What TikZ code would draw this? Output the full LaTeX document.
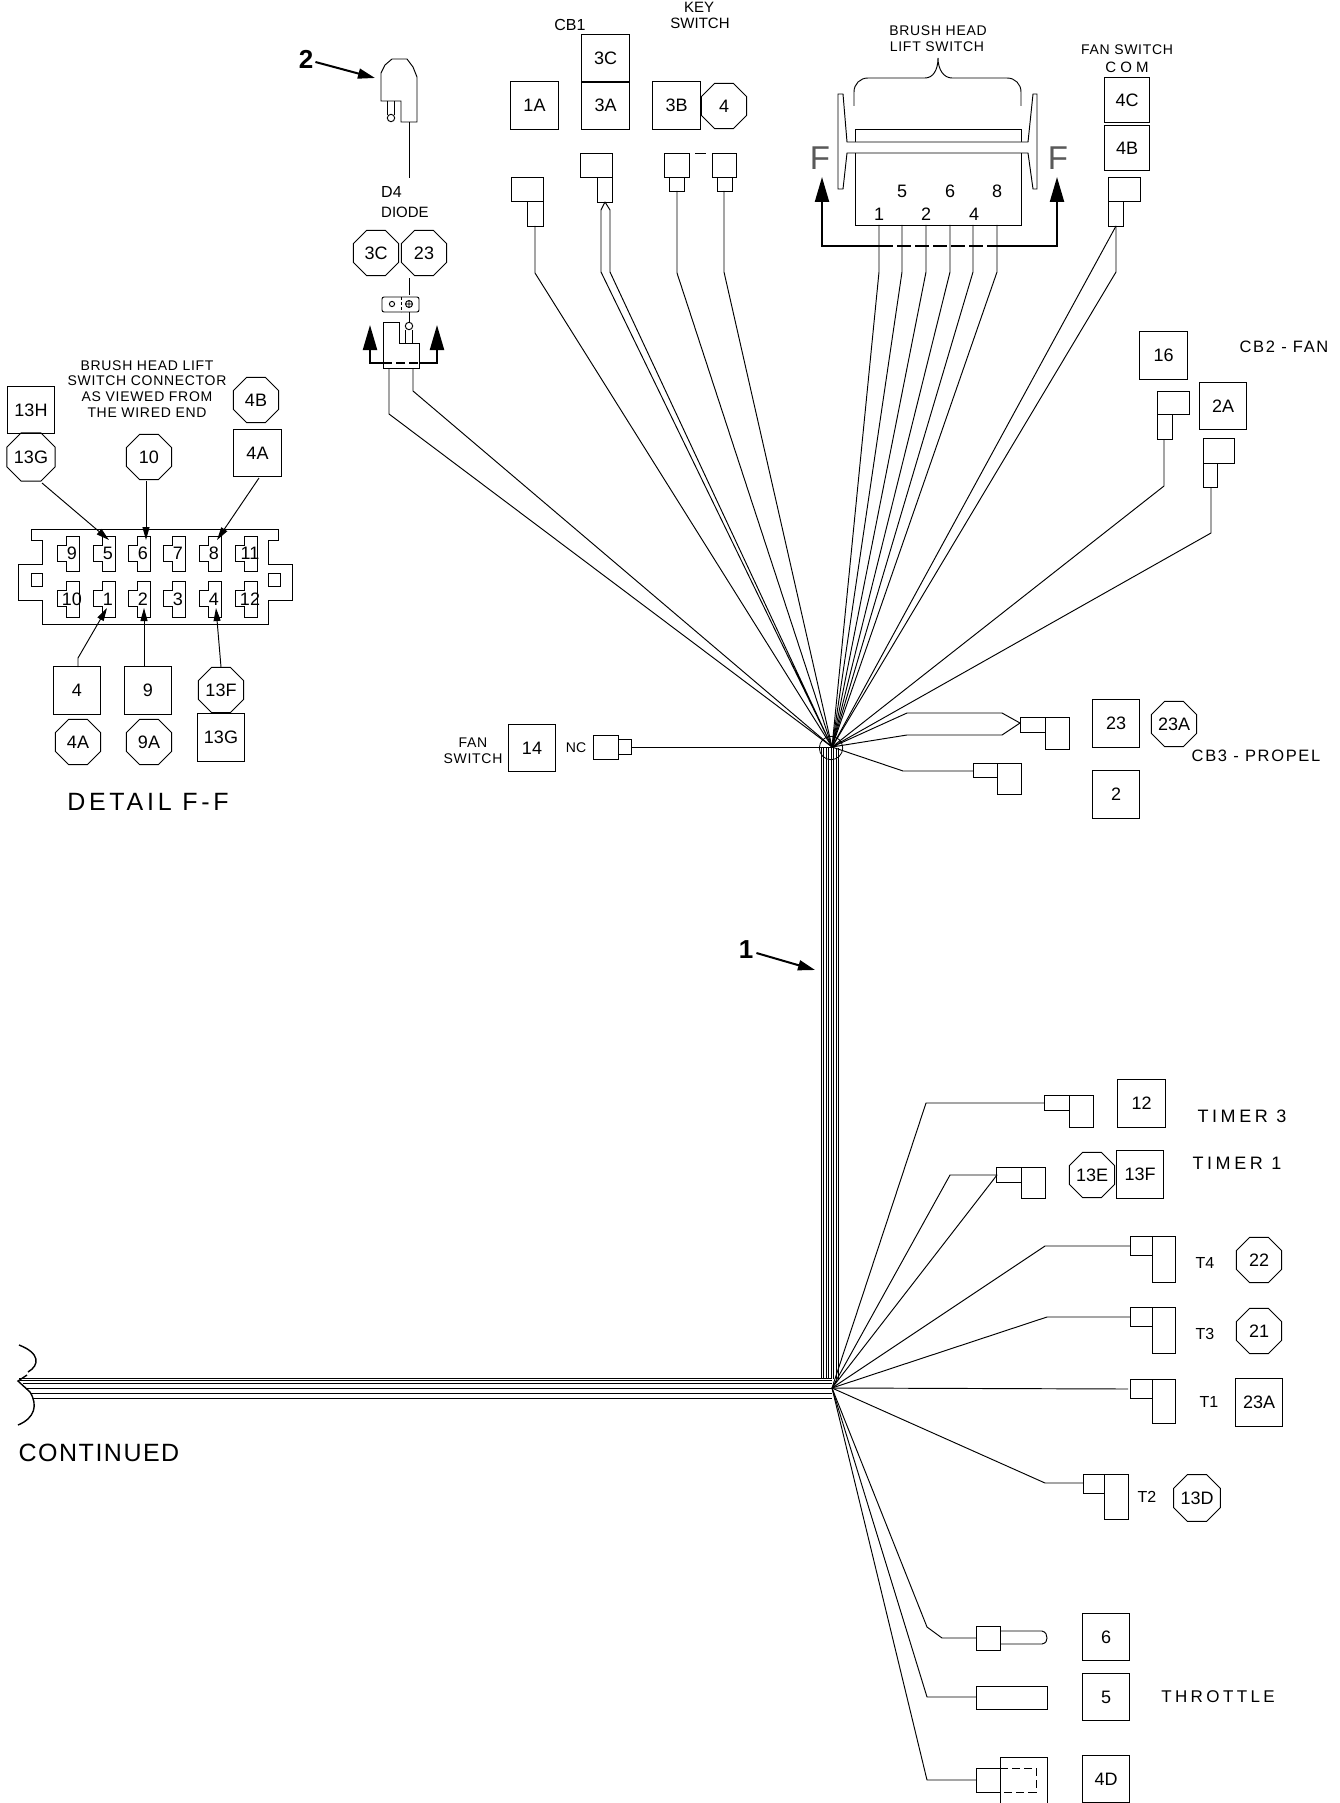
\documentclass[tikz,border=0pt]{standalone}
\usepackage{fontspec}
\usetikzlibrary{shapes.geometric,arrows.meta}
\setmainfont{Liberation Sans}
\newfontfamily\cadA{Liberation Sans}
\newfontfamily\cadE[LetterSpace=5]{Liberation Sans}
\newfontfamily\cadF[LetterSpace=6]{Liberation Sans}
\newfontfamily\cadB[LetterSpace=10]{Liberation Sans}
\newfontfamily\cadG[LetterSpace=15]{Liberation Sans}
\newfontfamily\cadC[LetterSpace=20]{Liberation Sans}
\newfontfamily\cadD{Liberation Sans Bold}
\tikzset{
  x=1pt,y=-1pt,
  wire/.style={line width=0.95pt,line join=round},
  part/.style={line width=0.95pt,draw=black},
  sq/.style={draw,line width=0.95pt,minimum size=47.5pt,inner sep=0pt,outer sep=0pt,font=\cadA\fontsize{18}{18}\selectfont},
  oct/.style={draw,line width=0.95pt,regular polygon,regular polygon sides=8,minimum size=49pt,inner sep=0pt,outer sep=0pt,font=\cadA\fontsize{18}{18}\selectfont},
  lab/.style={inner sep=0pt,font=\cadE\fontsize{14}{14}\selectfont},
  labm/.style={inner sep=0pt,font=\cadA\fontsize{15}{15}\selectfont},
  labt/.style={inner sep=0pt,font=\cadA\fontsize{16}{16}\selectfont},
  labc/.style={inner sep=0pt,font=\cadB\fontsize{16.5}{16.5}\selectfont},
  labw/.style={inner sep=0pt,font=\cadC\fontsize{18}{18}\selectfont},
  pinlab/.style={inner sep=0pt,font=\cadA\fontsize{18}{18}\selectfont},
  callout/.style={line width=2pt,-{Triangle[length=17pt,width=10pt]}},
  calltext/.style={inner sep=0pt,font=\cadD\fontsize{26}{26}\selectfont},
  sect/.style={line width=2.2pt,line join=miter},
  secttip/.style={sect,-{Triangle[length=25pt,width=14pt]}},
  leader/.style={line width=0.95pt,-{Triangle[length=13pt,width=7pt]}},
}
\begin{document}
\begin{tikzpicture}
\useasboundingbox (0,0) rectangle (1339,1803);
\coordinate (hubA) at (832,747);
\coordinate (hubB) at (832,1388);

% ---------- DETAIL F-F
\node[lab] (d1) at (147,366) {BRUSH HEAD LIFT};
\node[lab] (d2) at (147,381) {SWITCH CONNECTOR};
\node[lab] (d3) at (147,397) {AS VIEWED FROM};
\node[lab] (d4) at (147,413) {THE WIRED END};
\node[sq] (s13H) at (31,410) {13H};
\node[oct] (o13Ga) at (31,457) {13G};
\node[oct] (o10) at (149,457) {10};
\node[oct] (o4B) at (256,400) {4B};
\node[sq] (s4A) at (257.5,453) {4A};
\node[sq] (s4) at (77,690.5) {4};
\node[sq] (s9) at (148,690.5) {9};
\node[oct] (o13Fa) at (221,690) {13F};
\node[sq] (s13Gb) at (221,737.5) {13G};
\node[oct] (o4A) at (78,742) {4A};
\node[oct] (o9A) at (149,742) {9A};
\node[inner sep=0pt,font=\cadG\fontsize{25}{25}\selectfont] (detail) at (148,802) {DETAIL F-F};
\draw[part] (31,529) -- (278,529) -- (278,540) -- (268,540) -- (268,564) -- (292,564) -- (292,600) -- (268,600) -- (268,624) -- (42,624) -- (42,600) -- (18,600) -- (18,564) -- (42,564) -- (42,540) -- (31,540) -- cycle;
\draw[part] (31,573) rectangle (42,586);
\draw[part] (268,573) rectangle (280,586);
\foreach \x/\t/\b in {79/9/10,115/5/1,150/6/2,185/7/3,221/8/4,257/11/12}{
  \draw[part] (\x,536) -- (\x,571) -- ({\x-13},571) -- ({\x-13},561) -- ({\x-22},561) -- ({\x-22},545) -- ({\x-13},545) -- ({\x-13},536) -- cycle;
  \draw[part] (\x,581) -- (\x,617) -- ({\x-13},617) -- ({\x-13},606) -- ({\x-22},606) -- ({\x-22},590) -- ({\x-13},590) -- ({\x-13},581) -- cycle;
  \node[pinlab] (pinT\t) at ({\x-7},553) {\t};
  \node[pinlab] (pinB\b) at ({\x-7},599) {\b};
}
\draw[leader] (42,483) -- (109,540);
\draw[leader] (146,481) -- (146,540);
\draw[leader] (259,478) -- (217,540);
\draw[leader] (78,667) -- (78,658) -- (107,608);
\draw[leader] (144,667) -- (144,608);
\draw[leader] (221,667) -- (216,608);

% ---------- Diode
\node[calltext] (n2) at (306,59) {2};
\coordinate (c2) at (375,78);
\draw[callout] (n2.east) ++(2,3) -- (c2);
\draw[part] (381,101) -- (381,73) -- (385,65) -- (392,59) -- (407,59) -- (413,67) -- (417,77) -- (417,122) -- (401,122) -- (401,101) -- cycle;
\draw[part] (387,101) -- (387,115) (394,101) -- (394,115);
\draw[part] (391,118) circle (3.7);
\draw[wire] (409,122) -- (409,178);
\node[labt,anchor=west] (d4t) at (381,192) {D4};
\node[labm,anchor=west] (diode) at (381,212) {DIODE};
\node[oct] (o3Ca) at (376,253) {3C};
\node[oct] (o23a) at (424,253) {23};
\draw[wire] (409,278) -- (409,295);
\draw[part,rounded corners=2pt] (382,297) rectangle (419,312);
\draw[part,densely dashed] (401,297) -- (401,312);
\draw[part] (392,304) circle (2.6);
\draw[part] (409,304) circle (3.5) (405.5,304) -- (412.5,304) (409,300.5) -- (409,307.5);
\draw[wire] (409,312) -- (409,322);
\draw[part] (409,326) circle (3.7);
\draw[part] (405,330) -- (405,343) (412,330) -- (412,343);
\draw[part] (383,322) -- (399,322) -- (399,343) -- (419,343) -- (419,368) -- (383,368) -- cycle;
\draw[secttip] (383,363) -- (370,363) -- (370,325);
\draw[secttip] (419,363) -- (437,363) -- (437,325);
\draw[sect,dash pattern=on 9pt off 4pt] (383,363) -- (419,363);
\draw[wire] (389,368) -- (389,414) -- (hubA);
\draw[wire] (413,368) -- (413,391) -- (hubA);

% ---------- CB1 / key switch
\node[labt] (cb1) at (570,25) {CB1};
\node[sq] (s3C) at (605.5,58.5) {3C};
\node[sq] (s3A) at (605.5,105.5) {3A};
\node[sq] (s1A) at (534.5,105.5) {1A};
\node[sq] (s3B) at (676.5,105.5) {3B};
\node[oct] (o4) at (724,106) {4};
\node[labm] (key) at (699,7) {KEY};
\node[labm] (switch) at (700,23) {SWITCH};
\draw[part] (511,177) rectangle (543,201);
\draw[part] (527,201) rectangle (543,226);
\draw[wire] (535,226) -- (535,273) -- (hubA);
\draw[part] (580,153) rectangle (612,177);
\draw[part] (597,177) rectangle (612,202);
\draw[wire] (601,272) -- (601,210) -- (605,202) -- (610,210) -- (610,272);
\draw[wire] (601,272) -- (hubA) (610,272) -- (hubA);
\draw[part] (664,153) rectangle (689,177);
\draw[part] (669,177) rectangle (684,191);
\draw[wire] (677,191) -- (677,273) -- (hubA);
\draw[part] (712,153) rectangle (736,177);
\draw[part] (717,177) rectangle (732,191);
\draw[wire] (724,191) -- (724,272) -- (hubA);
\draw[part] (695,153) -- (706,153);

% ---------- Brush head lift switch
\node[lab] (bh1) at (938,31) {BRUSH HEAD};
\node[lab] (bh2) at (937,47) {LIFT SWITCH};
\draw[part] (854,106) -- (854,92) .. controls (854,84) and (860,78) .. (868,78) -- (925,78) .. controls (933,78) and (938,70) .. (938,58) .. controls (938,70) and (944,78) .. (952,78) -- (1007,78) .. controls (1015,78) and (1021,84) .. (1021,92) -- (1021,106);
\draw[part] (855,129) rectangle (1021,225);
\draw[part,fill=white] (838,94) -- (843,94) -- (847,142) -- (1028,142) -- (1033,94) -- (1037,94) -- (1037,189) -- (1033,189) -- (1028,153) -- (847,153) -- (843,189) -- (838,189) -- cycle;
\node[pinlab] (b5) at (902,191) {5};
\node[pinlab] (b6) at (950,191) {6};
\node[pinlab] (b8) at (997,191) {8};
\node[pinlab] (b1) at (879,214) {1};
\node[pinlab] (b2) at (926,214) {2};
\node[pinlab] (b4) at (974,214) {4};
\foreach \x in {879,902,926,950,973,997}{
  \draw[wire] (\x,225) -- (\x,272) -- (hubA);
}
\draw[secttip] (879,246) -- (822,246) -- (822,177);
\draw[secttip] (997,246) -- (1057,246) -- (1057,177);
\draw[sect,dash pattern=on 14pt off 4pt] (879,246) -- (997,246);
\node[inner sep=0pt,text=black!65,font=\cadA\fontsize{33}{33}\selectfont] (fL) at (820,158) {F};
\node[inner sep=0pt,text=black!65,font=\cadA\fontsize{33}{33}\selectfont] (fR) at (1058,158) {F};

% ---------- Fan switch com
\node[lab] (fs1) at (1127,50) {FAN SWITCH};
\node[labm] (fs2) at (1127,67) {C O M};
\node[sq,minimum size=45.5pt] (s4C) at (1127,100) {4C};
\node[sq,minimum size=45.5pt] (s4B) at (1127,148) {4B};
\draw[part] (1108,177) rectangle (1140,201);
\draw[part] (1108,201) rectangle (1123,226);
\draw[wire] (1116,226) -- (hubA);
\draw[wire] (1116,226) -- (1116,272) -- (hubA);

% ---------- CB2
\node[sq] (s16) at (1163.5,355.5) {16};
\node[labc] (cb2) at (1284,347) {CB2 - FAN};
\node[sq] (s2A) at (1223,406) {2A};
\draw[part] (1157,391) rectangle (1189,414);
\draw[part] (1157,414) rectangle (1172,439);
\draw[wire] (1164,439) -- (1164,486) -- (hubA);
\draw[part] (1203,438) rectangle (1234,463);
\draw[part] (1203,463) rectangle (1217,487);
\draw[wire] (1211,487) -- (1211,533) -- (hubA);

% ---------- CB3
\node[sq] (s23) at (1116,723.5) {23};
\node[oct] (o23A) at (1174,724) {23A};
\node[labc] (cb3) at (1256,756) {CB3 - PROPEL};
\node[sq] (s2) at (1116,794.5) {2};
\draw[part] (1020,717) rectangle (1045,732);
\draw[part] (1045,717) rectangle (1069,749);
\draw[wire] (hubA) -- (907,713) -- (1002,713) -- (1020,723) -- (1002,735) -- (907,735) -- (hubA);
\draw[part] (973,763) rectangle (997,777);
\draw[part] (997,763) rectangle (1021,794);
\draw[wire] (hubA) -- (903,771) -- (973,771);

% ---------- Fan switch NC
\node[sq] (s14) at (532,748) {14};
\node[lab] (fan) at (473,743) {FAN};
\node[lab] (sw) at (473,759) {SWITCH};
\node[inner sep=0pt,font=\cadA\fontsize{14}{14}\selectfont] (nc) at (576,748) {NC};
\draw[part] (593,735) rectangle (618,759);
\draw[part] (618,739) rectangle (631,754);
\draw[wire] (631,747) -- (hubA);
\draw[line width=0.8pt] (831,748) circle (11.7);

% ---------- Trunk
\foreach \x in {821.5,823.5,826,828.5,831,833.5,836,838.5}{
  \draw[line width=0.9pt] (\x,748) -- (\x,1379);
}
\node[calltext] (n1) at (746,950) {1};
\coordinate (c1) at (815,970);
\draw[callout] (n1.east) ++(3,3) -- (c1);

% ---------- Horizontal bundle
\foreach \xx/\y in {19/1378,20/1380,23/1383,26/1388,30/1393,33/1398}{
  \draw[line width=0.9pt] (\xx,\y) -- (832,\y);
}
\draw[line width=1.4pt] (19,1345) .. controls (40,1353) and (40,1365) .. (28,1372);
\draw[line width=1.4pt] (27,1375) -- (18,1381) -- (30,1392) .. controls (38,1405) and (35,1418) .. (18,1425);
\node[inner sep=0pt,font=\cadF\fontsize{25}{25}\selectfont] (cont) at (99,1453) {CONTINUED};

% ---------- Timers
\draw[part] (1044,1095) rectangle (1069,1110);
\draw[part] (1069,1095) rectangle (1093,1127);
\draw[wire] (hubB) -- (926,1103) -- (1044,1103);
\node[sq] (s12) at (1141.5,1103.5) {12};
\node[labw] (t3) at (1242,1116) {TIMER 3};
\node[labw] (t1) at (1237,1163) {TIMER 1};
\node[sq] (s13F) at (1140,1174.5) {13F};
\node[oct] (o13E) at (1092,1175) {13E};
\draw[part] (996,1167) rectangle (1021,1182);
\draw[part] (1021,1167) rectangle (1045,1198);
\draw[wire] (hubB) -- (950,1175) -- (997,1175) -- (hubB);
% T4
\draw[part] (1130,1236) rectangle (1152,1255);
\draw[part] (1152,1236) rectangle (1175,1282);
\draw[wire] (hubB) -- (1045,1246) -- (1130,1246);
\node[labt] (tt4) at (1205,1263) {T4};
\node[oct] (o22) at (1259,1260) {22};
% T3
\draw[part] (1130,1307) rectangle (1152,1326);
\draw[part] (1152,1307) rectangle (1175,1353);
\draw[wire] (hubB) -- (1047,1317) -- (1130,1317);
\node[labt] (tt3) at (1205,1334) {T3};
\node[oct] (o21) at (1259,1331) {21};
% T1
\draw[part] (1130,1379) rectangle (1152,1398);
\draw[part] (1152,1379) rectangle (1175,1423);
\draw[wire] (hubB) -- (1128,1389);
\node[labt] (tt1) at (1209,1402) {T1};
\node[sq] (s23Ab) at (1259,1402.5) {23A};
% T2
\draw[part] (1083,1474) rectangle (1104,1493);
\draw[part] (1104,1474) rectangle (1128,1519);
\draw[wire] (hubB) -- (1045,1483) -- (1083,1483);
\node[labt] (tt2) at (1147,1497) {T2};
\node[oct] (o13D) at (1197,1498) {13D};

% ---------- Bottom connectors
\draw[part] (976,1626) rectangle (1000,1650);
\draw[part] (1000,1631) -- (1042,1631) .. controls (1046,1632) and (1047,1635) .. (1047,1638) .. controls (1047,1641) and (1046,1643) .. (1042,1644) -- (1000,1644);
\draw[wire] (hubB) -- (927,1627) -- (942,1638) -- (976,1638);
\node[sq] (s6) at (1106,1637) {6};
\draw[part] (976,1686) rectangle (1047,1709);
\draw[wire] (hubB) -- (927,1697) -- (976,1697);
\node[sq] (s5) at (1106,1697) {5};
\node[inner sep=0pt,font=\cadC\fontsize{17}{17}\selectfont] (thr) at (1218,1697) {THROTTLE};
\draw[part] (1000,1768) -- (976,1768) -- (976,1792) -- (1000,1792);
\draw[part] (1000,1803) -- (1000,1757) -- (1047,1757) -- (1047,1803);
\draw[part,dashed,dash pattern=on 8pt off 4pt] (1000,1768) -- (1036,1768) -- (1036,1792) -- (1000,1792);
\draw[wire] (hubB) -- (927,1780) -- (976,1780);
\node[sq] (s4D) at (1106,1779) {4D};
\end{tikzpicture}
\end{document}
